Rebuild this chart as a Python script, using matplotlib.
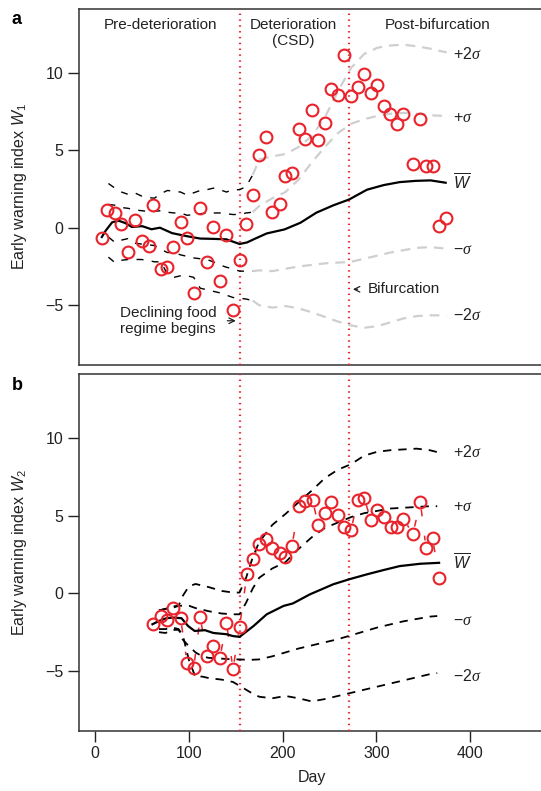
import numpy as np
import matplotlib.pyplot as plt

plt.rcParams['font.family'] = ['Liberation Sans', 'DejaVu Sans']
plt.rcParams['mathtext.fontset'] = 'custom'
plt.rcParams['mathtext.rm'] = 'Liberation Sans'
plt.rcParams['mathtext.it'] = 'Liberation Sans:italic'
plt.rcParams['mathtext.sf'] = 'Liberation Serif:italic'
plt.rcParams['lines.scale_dashes'] = False

# panel a: W1 observations
days_a = [7, 13, 21, 27, 35, 42, 50, 57, 62, 70, 77, 83, 91, 98, 105, 112, 119, 126, 133, 140,
          147, 154, 161, 168, 175, 182, 189, 197, 203, 210, 217, 224, 231, 238, 245, 252, 259,
          266, 273, 280, 287, 294, 301, 308, 315, 322, 329, 339, 347, 353, 360, 367, 374]
w1 = [-0.67, 1.16, 0.94, 0.26, -1.55, 0.47, -0.84, -1.18, 1.46, -2.64, -2.51, -1.22, 0.39, -0.69,
      -4.21, 1.29, -2.21, 0.04, -3.44, -0.48, -5.33, -2.06, 0.21, 2.1, 4.68, 5.83, 1.03, 1.50,
      3.32, 3.50, 6.35, 5.69, 7.62, 5.67, 6.72, 8.95, 8.54, 11.16, 8.48, 9.08, 9.93, 8.69, 9.23,
      7.87, 7.36, 6.67, 7.34, 4.12, 7.02, 3.97, 4.01, 0.13, 0.6]

wbar_a_days = [7, 11, 18, 25, 32, 39, 50, 60, 69, 82, 98, 112, 126, 140, 154, 162, 169, 183, 202,
               219, 236, 254, 271, 290, 308, 325, 342, 358, 374]
wbar_a = [-0.6, -0.2, 0.35, 0.45, 0.3, 0.05, 0.1, -0.1, 0.0, -0.35, -0.55, -0.7, -0.72, -0.75,
          -1.05, -0.95, -0.75, -0.37, -0.11, 0.32, 0.97, 1.44, 1.82, 2.45, 2.75, 2.94, 3.02, 3.05, 2.9]

# pre-deterioration bands (black)
pre_days = [14, 21, 28, 35, 42, 49, 56, 63, 70, 77, 84, 91, 98, 105, 112, 119, 126, 133, 140,
            147, 154, 161, 168]
a_p2 = [2.85, 2.55, 2.3, 2.15, 2.25, 2.05, 1.95, 1.9, 2.2, 2.4, 2.35, 2.3, 2.1, 2.25, 2.4, 2.45,
        2.55, 2.45, 2.3, 2.45, 2.45, 2.65, 3.4]
a_p1 = [1.5, 1.45, 1.3, 1.25, 1.15, 1.1, 1.05, 1.05, 1.1, 1.0, 0.95, 0.95, 0.8, 0.85, 0.9, 0.95,
        0.95, 0.95, 0.9, 0.85, 0.85, 0.95, 1.0]
a_m1 = [-0.6, -0.95, -0.8, -0.7, -1.0, -1.05, -1.1, -1.15, -1.4, -1.6, -1.6, -1.75, -1.85, -1.95,
        -2.0, -2.05, -2.2, -2.4, -2.55, -2.65, -2.8, -2.8, -2.8]
a_m2 = [-1.9, -2.25, -2.1, -2.05, -2.05, -2.05, -2.1, -2.2, -2.2, -3.0, -3.2, -3.1, -3.1, -3.2,
        -3.9, -4.0, -4.1, -4.2, -4.35, -4.5, -4.55, -4.6, -4.7]

# later bands (grey)
post_days = [168, 175, 189, 203, 217, 231, 245, 259, 273, 287, 301, 315, 329, 343, 357, 375]
g_p2 = [3.4, 4.4, 4.6, 4.75, 5.2, 5.9, 7.1, 8.8, 10.3, 11.2, 11.6, 11.75, 11.8, 11.7, 11.55, 11.3]
g_p1 = [1.0, 1.4, 1.9, 2.3, 3.1, 4.2, 5.2, 6.1, 6.7, 7.0, 7.2, 7.35, 7.4, 7.35, 7.25, 7.2]
g_m1 = [-2.8, -2.75, -2.8, -2.65, -2.5, -2.4, -2.3, -2.25, -2.2, -2.0, -1.8, -1.6, -1.45, -1.3,
        -1.25, -1.35]
g_m2 = [-4.7, -5.0, -5.15, -5.05, -5.2, -5.45, -5.75, -6.05, -6.3, -6.45, -6.35, -6.1, -5.85,
        -5.7, -5.65, -5.65]

# panel b: W2 observations
days_b = [62, 70, 77, 83, 91, 98, 105, 112, 119, 126, 133, 140, 147, 154, 162, 168, 175, 182,
          189, 197, 203, 210, 217, 224, 232, 238, 245, 252, 259, 266, 273, 280, 287, 294, 301,
          308, 316, 322, 329, 339, 347, 353, 360, 367]
w2 = [-1.99, -1.46, -1.73, -0.96, -1.6, -4.45, -4.81, -1.52, -4.02, -3.38, -4.17, -1.88, -4.87,
      -2.16, 1.26, 2.18, 3.14, 3.46, 2.92, 2.6, 2.35, 3.03, 5.6, 5.92, 5.98, 4.38, 5.17, 5.87,
      5.06, 4.27, 4.04, 6.02, 6.13, 4.74, 5.38, 4.91, 4.27, 4.27, 4.78, 3.82, 5.87, 2.92, 3.56, 1.0]

wbar_b_days = [61, 68, 76, 83, 92, 99, 106, 117, 126, 140, 147, 154, 169, 183, 201, 211, 229,
               254, 271, 290, 308, 325, 347, 367]
wbar_b = [-1.99, -1.78, -1.6, -1.56, -1.6, -2.1, -2.42, -2.37, -2.55, -2.63, -2.75, -2.8, -2.1,
          -1.35, -0.81, -0.65, -0.07, 0.58, 0.9, 1.22, 1.5, 1.75, 1.9, 1.96]

band_b_days = [68, 75, 82, 89, 93, 100, 107, 114, 121, 135, 147, 154, 161, 168, 175, 189, 203,
               217, 231, 245, 259, 273, 287, 301, 315, 329, 343, 357, 365]
b_p2 = [-1.1, -1.0, -0.95, -0.8, -0.2, 0.45, 0.6, 0.5, 0.4, 0.15, 0.05, 0.05, 1.0, 2.3, 3.3, 4.4,
        5.1, 5.85, 6.6, 7.4, 7.95, 8.3, 8.85, 9.1, 9.2, 9.25, 9.3, 9.2, 9.08]
b_p1 = [-1.1, -1.0, -0.85, -0.8, -0.8, -0.8, -0.95, -1.05, -1.15, -1.3, -1.35, -1.35, -0.6, 0.3,
        1.0, 1.6, 2.0, 2.85, 3.6, 4.2, 4.55, 4.9, 5.15, 5.3, 5.45, 5.5, 5.55, 5.6, 5.6]
b_m1 = [-2.3, -2.3, -2.2, -2.3, -2.95, -3.4, -3.8, -4.05, -4.15, -4.2, -4.25, -4.25, -4.27, -4.27,
        -4.25, -4.05, -3.8, -3.55, -3.35, -3.15, -2.95, -2.7, -2.45, -2.2, -2.0, -1.8, -1.65,
        -1.5, -1.46]
b_m2 = [-2.5, -2.55, -2.35, -2.35, -2.6, -4.3, -5.4, -5.35, -5.45, -5.55, -5.7, -5.95, -6.2,
        -6.45, -6.65, -6.75, -6.6, -6.75, -6.95, -6.8, -6.6, -6.4, -6.2, -6.0, -5.8, -5.6, -5.4,
        -5.2, -5.13]

deterioration_day = 154
bifurcation_day = 271

band_labels = ['$+2\\mathsf{\\sigma}$', '$+\\mathsf{\\sigma}$', '$\\overline{W}$',
               '$\u2212\\mathsf{\\sigma}$', '$\u22122\\mathsf{\\sigma}$']
label_y_a = [11.2, 7.1, 2.9, -1.4, -5.65]
label_y_b = [9.06, 5.6, 1.95, -1.73, -5.3]

RED = '#e8232b'
GREY = '#cfcfcf'
FS = 11.5

fig = plt.figure(figsize=(5.41, 7.91), dpi=100)
ax_a = fig.add_axes([0.146, 0.5386, 0.862, 0.4500])
ax_b = fig.add_axes([0.146, 0.0759, 0.862, 0.4513])


def style_axis(ax):
    ax.set_xlim(-17.4, 480.4)
    ax.set_ylim(-8.85, 14.1)
    ax.set_yticks([-5, 0, 5, 10])
    ax.tick_params(axis='both', labelsize=FS, length=8, width=1, color='#222222',
                   labelcolor='#222222', pad=3)
    for s in ax.spines.values():
        s.set_linewidth(1.1)
        s.set_color('#333333')
    for d in (deterioration_day, bifurcation_day):
        ax.axvline(d, color=RED, lw=1.6, ls=(0, (1, 3.2)), zorder=3)


def dashed(ax, x, y, color, lw, dash):
    line, = ax.plot(x, y, color=color, lw=lw, zorder=3)
    line.set_dashes(dash)


def gapped_segments(ax, x, y, gap_px, color):
    # R-style type="b": each segment drawn on its own, cut short around the points
    pts = ax.transData.transform(np.column_stack([x, y]))
    inv = ax.transData.inverted()
    for p, q in zip(pts[:-1], pts[1:]):
        d = q - p
        n = np.hypot(*d)
        if n <= 2 * gap_px + 1:
            continue
        u = d / n
        seg = inv.transform(np.array([p + u * gap_px, q - u * gap_px]))
        line, = ax.plot(seg[:, 0], seg[:, 1], color=color, lw=1.1, zorder=2)
        line.set_dashes((5, 14))


# ---- panel a ----
ax = ax_a
style_axis(ax)
ax.set_xticks([])
for band in (a_p2, a_p1, a_m1, a_m2):
    dashed(ax, pre_days, band, 'black', 1.0, (5, 6))
for band in (g_p2, g_p1, g_m1, g_m2):
    dashed(ax, post_days, band, GREY, 1.6, (7, 5))
ax.plot(wbar_a_days, wbar_a, color='black', lw=1.6, zorder=3)
ax.plot(days_a, w1, 'o', mfc='none', mec=RED, mew=1.5, ms=8.5, zorder=4)
for txt, yy in zip(band_labels, label_y_a):
    ax.text(382, yy, txt, fontsize=FS, va='center', ha='left', color='#222222')
ax.text(70, 13.1, 'Pre-deterioration', fontsize=11, ha='center', va='center', color='#222222')
ax.text(211, 12.55, 'Deterioration\n(CSD)', fontsize=11, ha='center', va='center',
        color='#222222', linespacing=1.25)
ax.text(365, 13.1, 'Post-bifurcation', fontsize=11, ha='center', va='center', color='#222222')
ax.text(26, -6.0, 'Declining food\nregime begins', fontsize=11, ha='left', va='center',
        color='#222222', linespacing=1.15)
ax.annotate('', xy=(153, -6.0), xytext=(138, -6.0),
            arrowprops=dict(arrowstyle='->', color='#222222', lw=0.9))
ax.annotate('', xy=(272, -3.97), xytext=(283, -3.97),
            arrowprops=dict(arrowstyle='->', color='#222222', lw=0.9))
ax.text(291, -3.97, 'Bifurcation', fontsize=11, ha='left', va='center', color='#222222')
ax.set_ylabel('Early warning index $W_1$', fontsize=11.5, color='#222222')
ax.yaxis.set_label_coords(-0.107, 0.5)

# ---- panel b ----
ax = ax_b
style_axis(ax)
ax.set_xticks([0, 100, 200, 300, 400])
for band in (b_p2, b_p1, b_m1, b_m2):
    dashed(ax, band_b_days, band, 'black', 1.3, (6, 5))
ax.plot(wbar_b_days, wbar_b, color='black', lw=1.6, zorder=3)
gapped_segments(ax, days_b, w2, 7.5, RED)
ax.plot(days_b, w2, 'o', mfc='none', mec=RED, mew=1.5, ms=8.5, zorder=4)
for txt, yy in zip(band_labels, label_y_b):
    ax.text(382, yy, txt, fontsize=FS, va='center', ha='left', color='#222222')
ax.set_ylabel('Early warning index $W_2$', fontsize=11.5, color='#222222')
ax.yaxis.set_label_coords(-0.107, 0.5)
ax.set_xlabel('Day', fontsize=FS, color='#222222', labelpad=6)

fig.text(0.022, 0.975, 'a', fontsize=13, fontweight='bold', va='center')
fig.text(0.022, 0.513, 'b', fontsize=13, fontweight='bold', va='center')

fig.savefig('out.png', dpi=100)
